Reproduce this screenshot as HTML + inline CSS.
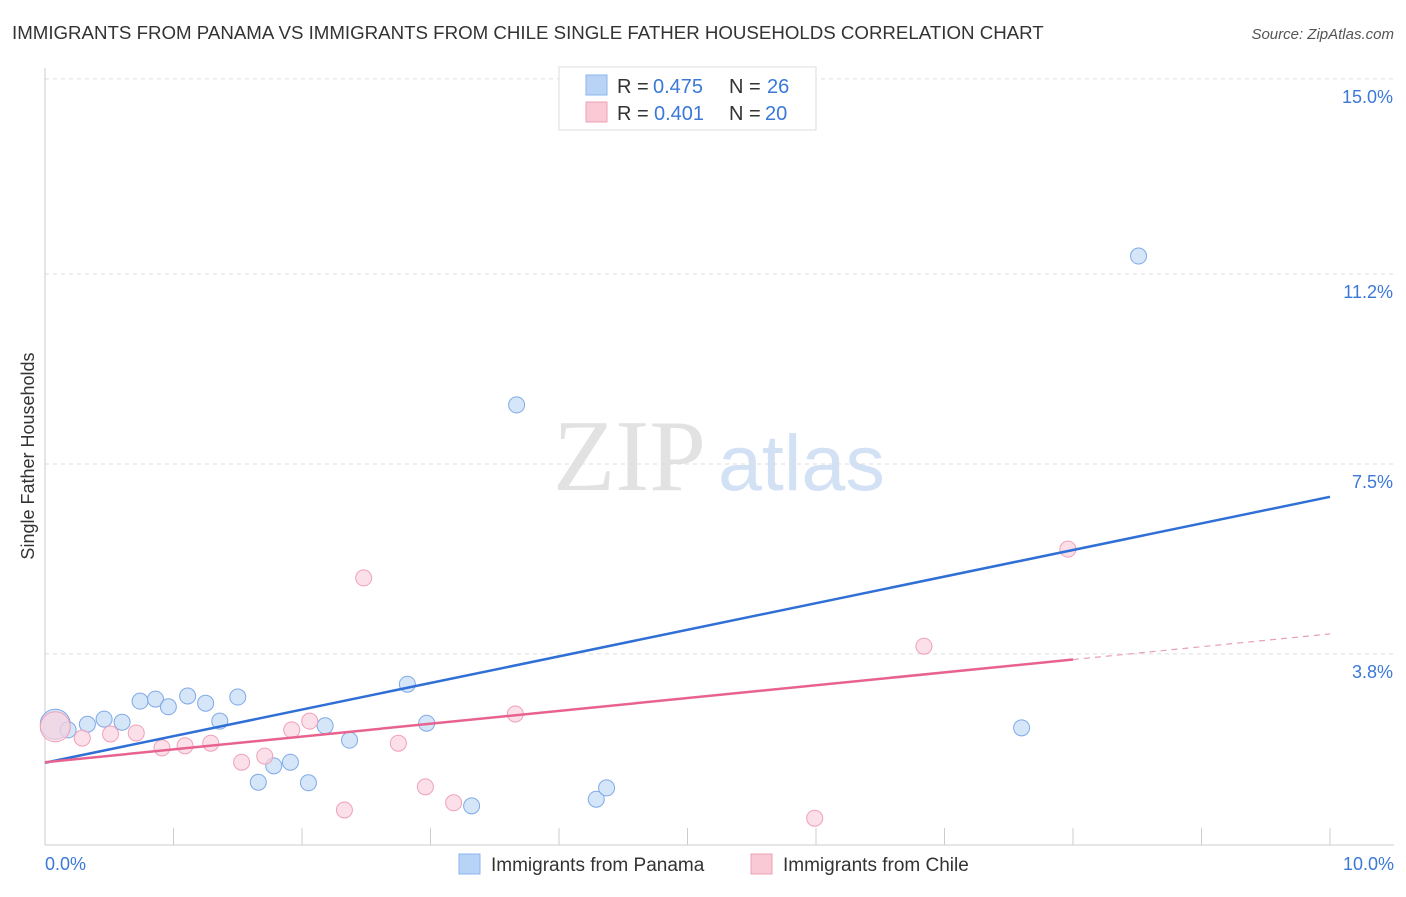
<!DOCTYPE html>
<html><head><meta charset="utf-8"><style>
body{margin:0;background:#fff;font-family:"Liberation Sans",sans-serif;}
</style></head><body>
<svg id="chart" width="1406" height="892" xmlns="http://www.w3.org/2000/svg" font-family="Liberation Sans, sans-serif">
<text x="12" y="39" font-size="18.7" fill="#333">IMMIGRANTS FROM PANAMA VS IMMIGRANTS FROM CHILE SINGLE FATHER HOUSEHOLDS CORRELATION CHART</text>
<text x="1394" y="39" font-size="15" fill="#555" font-style="italic" text-anchor="end">Source: ZipAtlas.com</text>
<text x="553" y="490" font-size="102" fill="#e2e2e2" style="font-family:'Liberation Serif',serif">ZIP</text>
<text x="718" y="490" font-size="79" fill="#d3e1f5" style="font-family:'Liberation Sans',sans-serif">atlas</text>
<text transform="translate(34,456) rotate(-90)" font-size="18" fill="#333" text-anchor="middle">Single Father Households</text>
<g id="grid"></g><g id="axes"></g><g id="marks"></g>
<g>
<rect x="559" y="67" width="257" height="63" fill="#fff" stroke="#ddd"/>
<rect x="586" y="75" width="21" height="20" fill="#b8d3f5" stroke="#8ab4ec"/>
<text x="617" y="93" font-size="20" fill="#333">R =</text>
<text x="653" y="93" font-size="20" fill="#3b78d8">0.475</text>
<text x="729" y="93" font-size="20" fill="#333">N =</text>
<text x="767" y="93" font-size="20" fill="#3b78d8">26</text>
<rect x="586" y="102" width="21" height="20" fill="#f9c9d6" stroke="#f0a0b8"/>
<text x="617" y="120" font-size="20" fill="#333">R =</text>
<text x="654" y="120" font-size="20" fill="#3b78d8">0.401</text>
<text x="729" y="120" font-size="20" fill="#333">N =</text>
<text x="765" y="120" font-size="20" fill="#3b78d8">20</text>
</g>
<g>
<rect x="459" y="854" width="21" height="20" fill="#b8d3f5" stroke="#8ab4ec"/>
<text x="491" y="871" font-size="19" fill="#333">Immigrants from Panama</text>
<rect x="751" y="854" width="21" height="20" fill="#f9c9d6" stroke="#f0a0b8"/>
<text x="783" y="871" font-size="19" fill="#333">Immigrants from Chile</text>
</g>
</svg>
<script>
const yTicks=[3.8,7.5,11.2,15.0];
const yTickLabels=["3.8%","7.5%","11.2%","15.0%"];
const xTickLabels=["0.0%","10.0%"];
const panamaX=[0.08,0.18,0.33,0.46,0.60,0.74,0.86,0.96,1.11,1.25,1.36,1.50,1.66,1.78,1.91,2.05,2.18,2.37,2.82,2.97,3.32,3.67,4.29,4.37,7.60,8.51];
const panamaY=[2.43,2.32,2.43,2.53,2.47,2.88,2.92,2.77,2.98,2.84,2.49,2.96,1.30,1.62,1.69,1.29,2.40,2.12,3.21,2.45,0.84,8.65,0.97,1.19,2.36,11.55];
const chileX=[0.08,0.29,0.51,0.71,0.91,1.09,1.29,1.53,1.71,1.92,2.06,2.33,2.48,2.75,2.96,3.18,3.66,5.99,6.84,7.96];
const chileY=[2.38,2.16,2.24,2.26,1.97,2.01,2.06,1.69,1.81,2.32,2.49,0.76,5.28,2.06,1.21,0.90,2.63,0.60,3.95,5.84];
const panamaTrend=[1.68,6.86];
const chileTrend=[1.69,4.19];
const chileTrendSolidEnd=8.0;
const NS="http://www.w3.org/2000/svg";
const xs=v=>45+v*128.5, ys=v=>849-v*51.34;
function mk(tag,attrs,parent){const e=document.createElementNS(NS,tag);for(const k in attrs)e.setAttribute(k,attrs[k]);document.getElementById(parent).appendChild(e);return e;}
yTicks.forEach((t,i)=>{
 const g=mk('line',{x1:45,x2:1394,y1:ys(t),y2:ys(t),stroke:'#ddd','stroke-dasharray':'4,4'},'grid');
 
 
 const l=mk('text',{x:1393,y:ys(t)+24,'font-size':18,fill:'#3b78d8','text-anchor':'end'},'grid');l.textContent=yTickLabels[i];
 
 
});
const ax=mk('line',{x1:45,x2:45,y1:68,y2:845,stroke:'#ccc'},'axes');


const bx=mk('line',{x1:45,x2:1394,y1:845,y2:845,stroke:'#ccc'},'axes');


for(let i=1;i<=10;i++){const t=mk('line',{x1:xs(i),x2:xs(i),y1:828,y2:845,stroke:'#ccc'},'axes');
 
 }
[[0,'start',45],[10,'end',1394]].forEach((d,i)=>{const t=mk('text',{x:d[2],y:870,'font-size':18,fill:'#3b78d8','text-anchor':d[1]},'axes');t.textContent=xTickLabels[i];
 
 });
function dot(x,y,fill,stroke,r,name){const c=mk('circle',{cx:xs(x),cy:ys(y),r:r,fill:fill,stroke:stroke,'fill-opacity':0.7},'marks');
 
 }
panamaX.forEach((x,i)=>dot(x,panamaY[i],'#c5dbf7','#7fa9e6',i===0?15:8,'panama-point'));
chileX.forEach((x,i)=>dot(x,chileY[i],'#fbd3df','#f0a0b8',i===0?15:8,'chile-point'));
const pl=mk('line',{x1:xs(0),y1:ys(panamaTrend[0]),x2:xs(10),y2:ys(panamaTrend[1]),stroke:'#2f6fd6','stroke-width':2.5},'marks');


const cAt=v=>chileTrend[0]+(chileTrend[1]-chileTrend[0])*v/10;
const cl=mk('line',{x1:xs(0),y1:ys(chileTrend[0]),x2:xs(chileTrendSolidEnd),y2:ys(cAt(chileTrendSolidEnd)),stroke:'#e8628f','stroke-width':2.5},'marks');


const cd=mk('line',{x1:xs(chileTrendSolidEnd),y1:ys(cAt(chileTrendSolidEnd)),x2:xs(10),y2:ys(chileTrend[1]),stroke:'#e8a0b8','stroke-width':1.2,'stroke-dasharray':'6,5'},'marks');


</script>
</body></html>
